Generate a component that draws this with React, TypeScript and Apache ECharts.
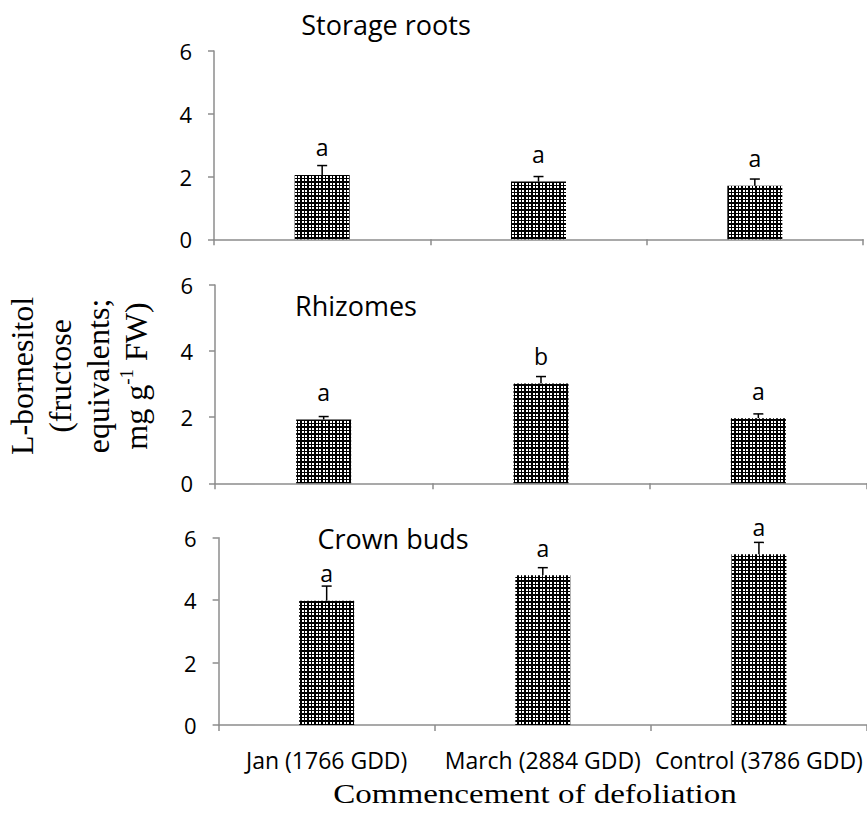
import React, { useEffect, useRef } from "react";
import * as echarts from "echarts";

const categories = ["Jan (1766 GDD)", "March (2884 GDD)", "Control (3786 GDD)"];
const panelTitles = ["Storage roots", "Rhizomes", "Crown buds"];

const storageMeans = [2.05, 1.84, 1.71];
const storageErrors = [0.3, 0.16, 0.21];
const storageLetters = ["a", "a", "a"];

const rhizomeMeans = [1.93, 3.02, 1.97];
const rhizomeErrors = [0.09, 0.21, 0.13];
const rhizomeLetters = ["a", "b", "a"];

const budMeans = [3.98, 4.8, 5.47];
const budErrors = [0.47, 0.24, 0.38];
const budLetters = ["a", "a", "a"];

const yMin = 0;
const yMax = 6;
const yInterval = 2;

const xTitle = "Commencement of defoliation";

const panels = [
  { means: storageMeans, errors: storageErrors, letters: storageLetters },
  { means: rhizomeMeans, errors: rhizomeErrors, letters: rhizomeLetters },
  { means: budMeans, errors: budErrors, letters: budLetters },
];

const grids = [
  { left: 214, top: 51, width: 649, height: 188.3 },
  { left: 215, top: 285, width: 654, height: 198.3 },
  { left: 218.6, top: 537.7, width: 650, height: 187.3 },
];

const titlePos = [
  { x: 386, y: 24 },
  { x: 356, y: 305 },
  { x: 393, y: 538.5 },
];

const AXIS_COLOR = "#8c8c8c";
const SANS = "'Open Sans', sans-serif";
const SERIF = "'Liberation Serif', 'Times New Roman', serif";

function makePattern() {
  const n = 7;
  const on = [1, 2, 4, 5];
  const c = document.createElement("canvas");
  c.width = n;
  c.height = n;
  const ctx = c.getContext("2d")!;
  ctx.fillStyle = "#000";
  ctx.fillRect(0, 0, n, n);
  ctx.fillStyle = "#fff";
  on.forEach((cx) => on.forEach((cy) => ctx.fillRect(cx, cy, 1, 1)));
  return {
    image: c.toDataURL(),
    repeat: "repeat",
    imageWidth: n,
    imageHeight: n,
  };
}

export default function App() {
  const ref = useRef<HTMLDivElement>(null);

  useEffect(() => {
    if (!ref.current) return;
    const chart = echarts.init(ref.current, null, { renderer: "svg" });
    const pattern = makePattern();

    const xAxes = grids.map((_, i) => ({
      type: "category",
      gridIndex: i,
      data: categories,
      boundaryGap: true,
      axisLine: { show: true, lineStyle: { color: AXIS_COLOR, width: 1.5 } },
      axisTick: { show: true, alignWithLabel: false, length: 6, lineStyle: { color: AXIS_COLOR, width: 1.5 } },
      axisLabel: {
        show: i === 2,
        interval: 0,
        margin: 23,
        fontSize: 23,
        fontFamily: SANS,
        color: "#000",
      },
      splitLine: { show: false },
    }));

    const yAxes = grids.map((_, i) => ({
      type: "value",
      gridIndex: i,
      min: yMin,
      max: yMax,
      interval: yInterval,
      axisLine: { show: true, lineStyle: { color: AXIS_COLOR, width: 1.5 } },
      axisTick: { show: true, length: 6, lineStyle: { color: AXIS_COLOR, width: 1.5 } },
      axisLabel: { margin: 22, fontSize: 22, fontFamily: SANS, color: "#000" },
      splitLine: { show: false },
    }));

    const series: any[] = [];
    panels.forEach((p, i) => {
      series.push({
        type: "bar",
        xAxisIndex: i,
        yAxisIndex: i,
        data: p.means,
        barWidth: 55,
        itemStyle: { color: pattern },
        label: {
          show: true,
          position: "top",
          distance: 16,
          fontSize: 23,
          lineHeight: 23,
          fontFamily: SANS,
          color: "#000",
          formatter: (prm: any) => p.letters[prm.dataIndex],
        },
        z: 2,
      });
      series.push({
        type: "custom",
        xAxisIndex: i,
        yAxisIndex: i,
        z: 3,
        data: p.means.map((m, k) => [k, m, p.errors[k]]),
        encode: { x: 0, y: 1 },
        renderItem: (_params: any, api: any) => {
          const idx = api.value(0);
          const m = api.value(1);
          const e = api.value(2);
          const base = api.coord([idx, m]);
          const top = api.coord([idx, m + e]);
          const hw = 5;
          return {
            type: "group",
            children: [
              {
                type: "line",
                shape: { x1: base[0], y1: base[1], x2: top[0], y2: top[1] },
                style: { stroke: "#000", lineWidth: 1.5 },
              },
              {
                type: "line",
                shape: { x1: top[0] - hw, y1: top[1], x2: top[0] + hw, y2: top[1] },
                style: { stroke: "#000", lineWidth: 1.5 },
              },
            ],
          };
        },
      });
    });

    const graphics: any[] = panelTitles.map((t, i) => ({
      type: "text",
      x: titlePos[i].x,
      y: titlePos[i].y,
      style: {
        text: t,
        fontSize: 27,
        fontFamily: SANS,
        fill: "#000",
        textAlign: "center",
        textVerticalAlign: "middle",
      },
    }));

    graphics.push({
      type: "text",
      x: 535,
      y: 794,
      scaleX: 1.18,
      style: {
        text: xTitle,
        fontSize: 28,
        fontFamily: SERIF,
        fill: "#000",
        textAlign: "center",
        textVerticalAlign: "middle",
      },
    });

    graphics.push({
      type: "text",
      x: 79,
      y: 376,
      rotation: Math.PI / 2,
      style: {
        text: "L-bornesitol\n(fructose\nequivalents;\nmg g{sup|-1} FW)",
        fontSize: 32,
        lineHeight: 38,
        fontFamily: SERIF,
        fill: "#000",
        textAlign: "center",
        textVerticalAlign: "middle",
        rich: {
          sup: { fontSize: 19, fontFamily: SERIF, verticalAlign: "top", fill: "#000" },
        },
      },
    });

    chart.setOption({
      animation: false,
      backgroundColor: "#fff",
      grid: grids,
      xAxis: xAxes,
      yAxis: yAxes,
      series,
      graphic: graphics,
    });

    return () => chart.dispose();
  }, []);

  return (
    <div
      ref={ref}
      style={{ position: "fixed", left: 0, top: 0, width: 867, height: 814, background: "#fff" }}
    />
  );
}
